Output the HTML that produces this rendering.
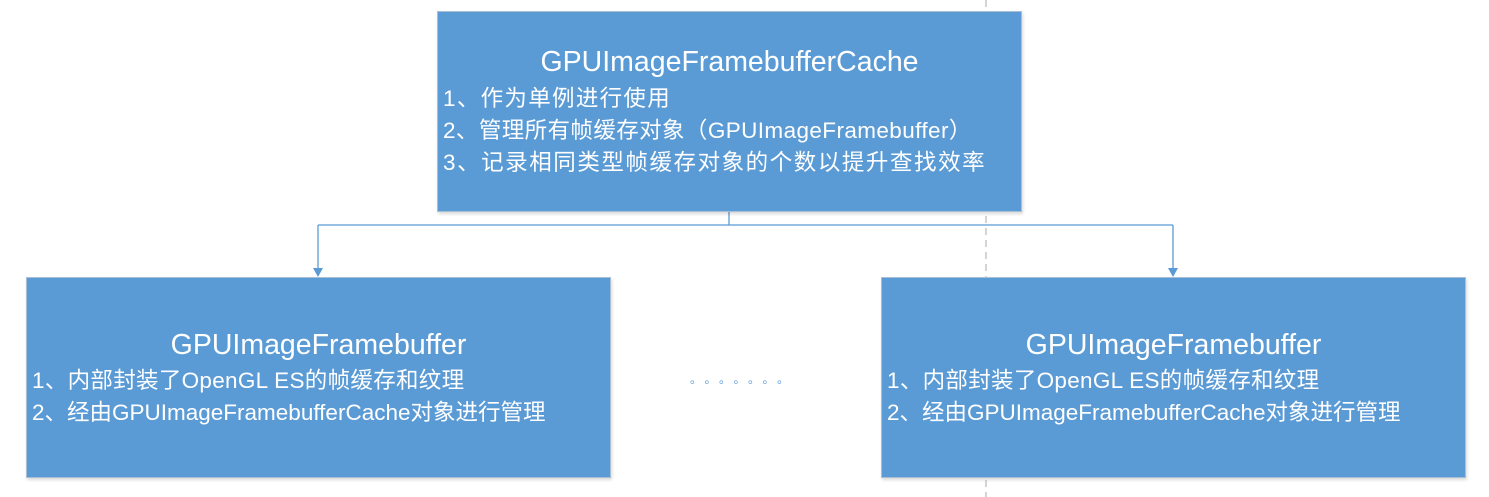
<!DOCTYPE html>
<html><head><meta charset="utf-8"><style>
body{margin:0;width:1489px;height:497px;background:#fff;position:relative;overflow:hidden;font-family:"Liberation Sans","Noto Sans CJK SC",sans-serif;color:#fff}
.b{position:absolute;background:#5b9bd5;border:1px solid #a9bfd6;box-shadow:1px 2px 3px rgba(0,0,0,.15);box-sizing:border-box}
.t{position:absolute;left:0;right:0;text-align:center;font-size:28.5px;line-height:32px}
.l{position:absolute;font-size:22.5px;line-height:26px;white-space:nowrap}
</style></head><body>
<svg width="1489" height="497" style="position:absolute;left:0;top:0">
<line x1="986" y1="0" x2="986" y2="497" stroke="#aaa" stroke-dasharray="7,5"/>
<g stroke="#5b9bd5" stroke-width="1.3" fill="none">
<line x1="729" y1="211" x2="729" y2="225"/>
<line x1="318" y1="225" x2="1173" y2="225"/>
<line x1="318" y1="225" x2="318" y2="272"/>
<line x1="1173" y1="225" x2="1173" y2="272"/>
</g>
<polygon points="313,268 323,268 318,277" fill="#5b9bd5"/>
<polygon points="1168,268 1178,268 1173,277" fill="#5b9bd5"/>
</svg>
<div class="b" style="left:437px;top:11px;width:585px;height:201px">
<div class="t" style="top:34px">GPUImageFramebufferCache</div>
<div class="l" style="left:5px;top:74px;letter-spacing:1.3px">1、作为单例进行使用</div>
<div class="l" style="left:5px;top:106px;letter-spacing:0.4px">2、管理所有帧缓存对象（GPUImageFramebuffer）</div>
<div class="l" style="left:5px;top:138px;letter-spacing:1.55px">3、记录相同类型帧缓存对象的个数以提升查找效率</div>
</div>
<div class="b" style="left:26px;top:277px;width:585px;height:201px">
<div class="t" style="top:51px">GPUImageFramebuffer</div>
<div class="l" style="left:5px;top:90px;letter-spacing:0.3px">1、内部封装了OpenGL ES的帧缓存和纹理</div>
<div class="l" style="left:5px;top:122px">2、经由GPUImageFramebufferCache对象进行管理</div>
</div>
<div class="b" style="left:881px;top:277px;width:585px;height:201px">
<div class="t" style="top:51px">GPUImageFramebuffer</div>
<div class="l" style="left:5px;top:90px;letter-spacing:0.3px">1、内部封装了OpenGL ES的帧缓存和纹理</div>
<div class="l" style="left:5px;top:122px">2、经由GPUImageFramebufferCache对象进行管理</div>
</div>
<div style="position:absolute;left:690px;top:370px;color:#5b9bd5;font-size:12px;letter-spacing:8.5px">。。。。。。。</div>
</body></html>
